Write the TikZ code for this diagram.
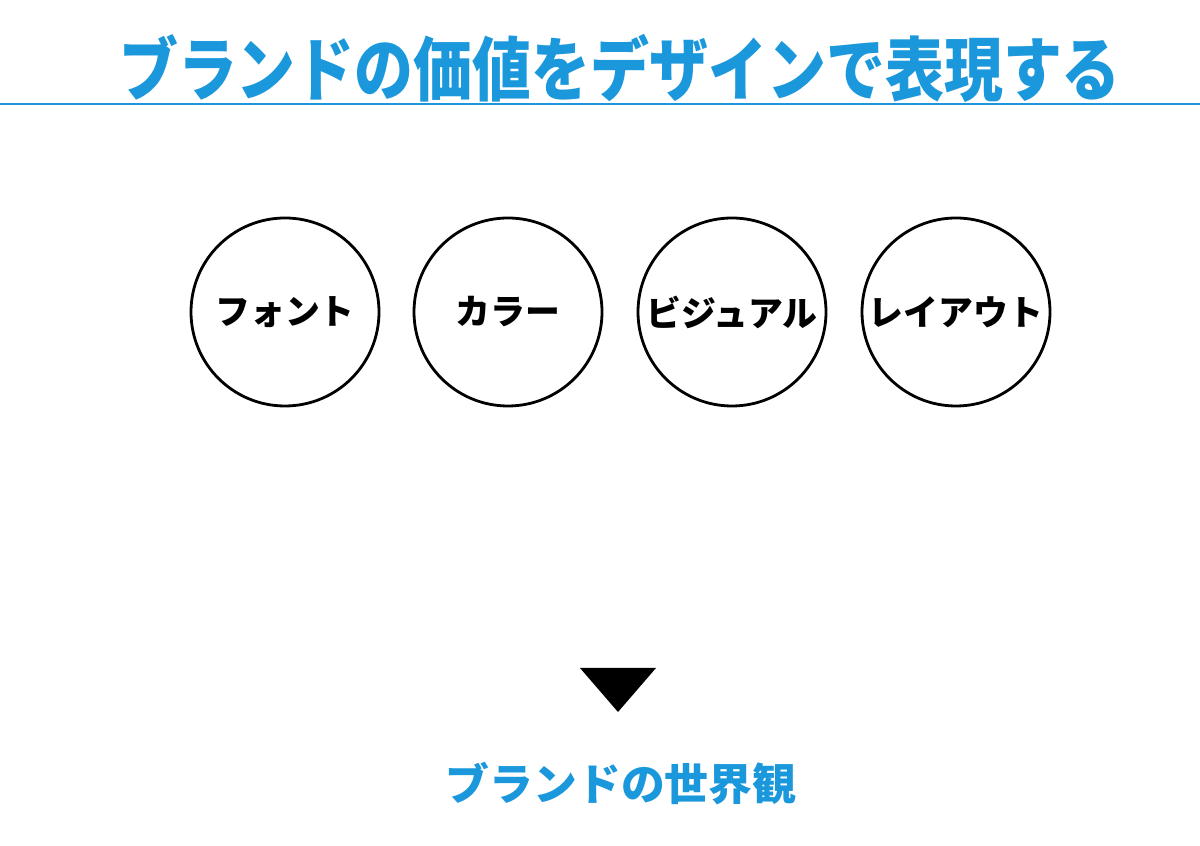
\documentclass[tikz,border=0pt]{standalone}
\usepackage{fontspec}
\newfontfamily\cjk[BoldFont={Noto Sans CJK JP Black}]{Noto Sans CJK JP}
\newfontfamily\cjknarrow[BoldFont={Noto Sans CJK JP Black},FakeStretch=0.845]{Noto Sans CJK JP}
\definecolor{brandblue}{RGB}{27,152,219}
\tikzset{
  item/.style={circle,draw=black,line width=2.8bp,minimum size=188bp,inner sep=0pt,
    font=\cjk\bfseries\fontsize{35}{35}\selectfont},
}
\begin{document}
\begin{tikzpicture}[x=1bp,y=1bp]
  \useasboundingbox (0bp,0bp) rectangle (1200bp,846bp);
%%
  % Node: Title
  \node[text=brandblue,font=\cjknarrow\bfseries\fontsize{70}{70}\selectfont] (title) at (620bp,778bp) {ブランドの価値をデザインで表現する};
  % Edge: Rule
  \coordinate (ruleL) at (0bp,742bp);
  \coordinate (ruleR) at (1200bp,742bp);
  \draw [brandblue,line width=2bp] (ruleL) -- (ruleR);
  % Node: Font
  \node[item] (font) at (285bp,534bp) {フォント};
  % Node: Color
  \node[item] (color) at (508bp,534bp) {カラー};
  % Node: Visual
  \node[item] (visual) at (732bp,534bp) {ビジュアル};
  % Node: Layout
  \node[item] (layout) at (956bp,534bp) {レイアウト};
  % Node: Arrow
  \coordinate (triL) at (580bp,178bp);
  \coordinate (triR) at (656bp,178bp);
  \coordinate (triB) at (618bp,134bp);
  \fill [black] (triL) -- (triR) -- (triB) -- cycle;
  % Node: World
  \node[text=brandblue,font=\cjk\bfseries\fontsize{44}{44}\selectfont] (world) at (621bp,62bp) {ブランドの世界観};
%
\end{tikzpicture}
\end{document}
